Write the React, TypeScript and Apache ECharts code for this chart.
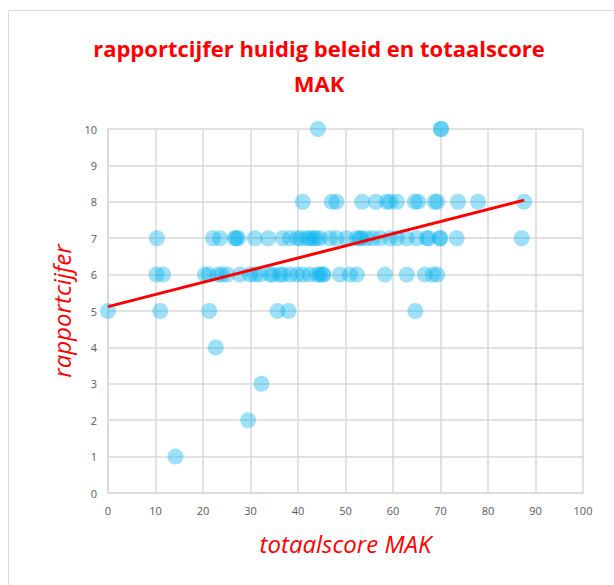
import React, { useEffect, useRef } from "react";
import * as echarts from "echarts";

// totaalscore MAK values, grouped by rapportcijfer (report mark)
const scoresRating10 = [44.2, 70.1, 70.1];
const scoresRating8 = [41.0, 47.1, 48.1, 53.5, 56.4, 58.7, 59.4, 60.8, 64.6, 65.3, 68.8, 69.3, 73.7, 77.9, 87.6];
const scoresRating7 = [
  10.3, 22.1, 23.6, 26.7, 27.0, 27.4, 30.9, 33.7, 36.8, 38.3, 39.8, 40.5, 41.8, 42.5, 43.2, 43.8, 44.6,
  46.7, 48.1, 50.2, 52.3, 53.0, 53.4, 54.5, 55.8, 57.3, 59.4, 60.8, 62.9, 65.0, 67.1, 67.5, 69.9, 69.9, 73.4, 87.1,
];
const scoresRating6 = [
  10.2, 11.6, 20.4, 21.2, 23.2, 24.0, 25.1, 27.8, 29.9, 31.0, 32.0, 34.1, 34.7, 36.2, 36.8, 38.3, 39.8, 41.0,
  42.5, 44.0, 44.6, 45.3, 45.3, 48.8, 50.9, 52.4, 58.3, 62.9, 66.7, 68.4, 69.3,
];
const scoresRating5 = [0, 11.0, 21.3, 35.7, 38.0, 64.7];
const scoresRating4 = [22.7];
const scoresRating3 = [32.3];
const scoresRating2 = [29.5];
const scoresRating1 = [14.2];

// linear trendline
const trendIntercept = 5.12;
const trendSlope = 0.0334;
const trendXStart = 0;
const trendXEnd = 87.6;

const titleText = "rapportcijfer huidig beleid en totaalscore\nMAK";
const xAxisName = "totaalscore MAK";
const yAxisName = "rapportcijfer";

export default function App() {
  const ref = useRef<HTMLDivElement>(null);
  useEffect(() => {
    if (!ref.current) return;
    const chart = echarts.init(ref.current, null, { renderer: "svg" });
    const groups: [number, number[]][] = [
      [10, scoresRating10],
      [8, scoresRating8],
      [7, scoresRating7],
      [6, scoresRating6],
      [5, scoresRating5],
      [4, scoresRating4],
      [3, scoresRating3],
      [2, scoresRating2],
      [1, scoresRating1],
    ];
    const points: number[][] = [];
    groups.forEach(([r, xs]) => xs.forEach((x) => points.push([x, r])));
    const trend = [
      [trendXStart, trendIntercept + trendSlope * trendXStart],
      [trendXEnd, trendIntercept + trendSlope * trendXEnd],
    ];
    const labelStyle = { color: "#595959", fontSize: 11, fontFamily: "Open Sans" };
    const nameStyle = { color: "#ff0000", fontSize: 24, fontStyle: "italic", fontFamily: "Open Sans" };
    chart.setOption({
      animation: false,
      backgroundColor: "#ffffff",
      title: {
        text: titleText,
        left: 314,
        textAlign: "center",
        top: 25,
        textStyle: {
          color: "#ff0000",
          fontSize: 22,
          fontWeight: "bold",
          fontFamily: "Open Sans",
          lineHeight: 35,
        },
      },
      graphic: [
        {
          type: "rect",
          shape: { x: 8.5, y: 10.5, width: 700, height: 700 },
          style: { fill: "none", stroke: "#d9d9d9", lineWidth: 1 },
          silent: true,
        },
      ],
      grid: { left: 108, right: 31, top: 129, bottom: 92 },
      xAxis: {
        type: "value",
        min: 0,
        max: 100,
        interval: 10,
        name: xAxisName,
        nameLocation: "middle",
        nameGap: 38,
        nameTextStyle: nameStyle,
        axisLine: { show: true, lineStyle: { color: "#d9d9d9", width: 1.5 } },
        axisTick: { show: false },
        axisLabel: { ...labelStyle, margin: 12 },
        splitLine: { show: true, lineStyle: { color: "#d9d9d9", width: 1.5 } },
      },
      yAxis: {
        type: "value",
        min: 0,
        max: 10,
        interval: 1,
        name: yAxisName,
        nameLocation: "middle",
        nameGap: 34,
        nameTextStyle: nameStyle,
        axisLine: { show: true, lineStyle: { color: "#d9d9d9", width: 1.5 } },
        axisTick: { show: false },
        axisLabel: { ...labelStyle, margin: 11 },
        splitLine: { show: true, lineStyle: { color: "#d9d9d9", width: 1.5 } },
      },
      series: [
        {
          type: "scatter",
          data: points,
          symbol: "circle",
          symbolSize: 16,
          itemStyle: { color: "rgba(0,176,240,0.48)" },
          z: 2,
        },
        {
          type: "line",
          data: trend,
          showSymbol: false,
          symbol: "none",
          lineStyle: { color: "#ff0000", width: 3 },
          z: 3,
        },
      ],
    });
    return () => chart.dispose();
  }, []);
  return (
    <div
      ref={ref}
      style={{ position: "fixed", left: 0, top: 0, width: 614, height: 585 }}
    />
  );
}
